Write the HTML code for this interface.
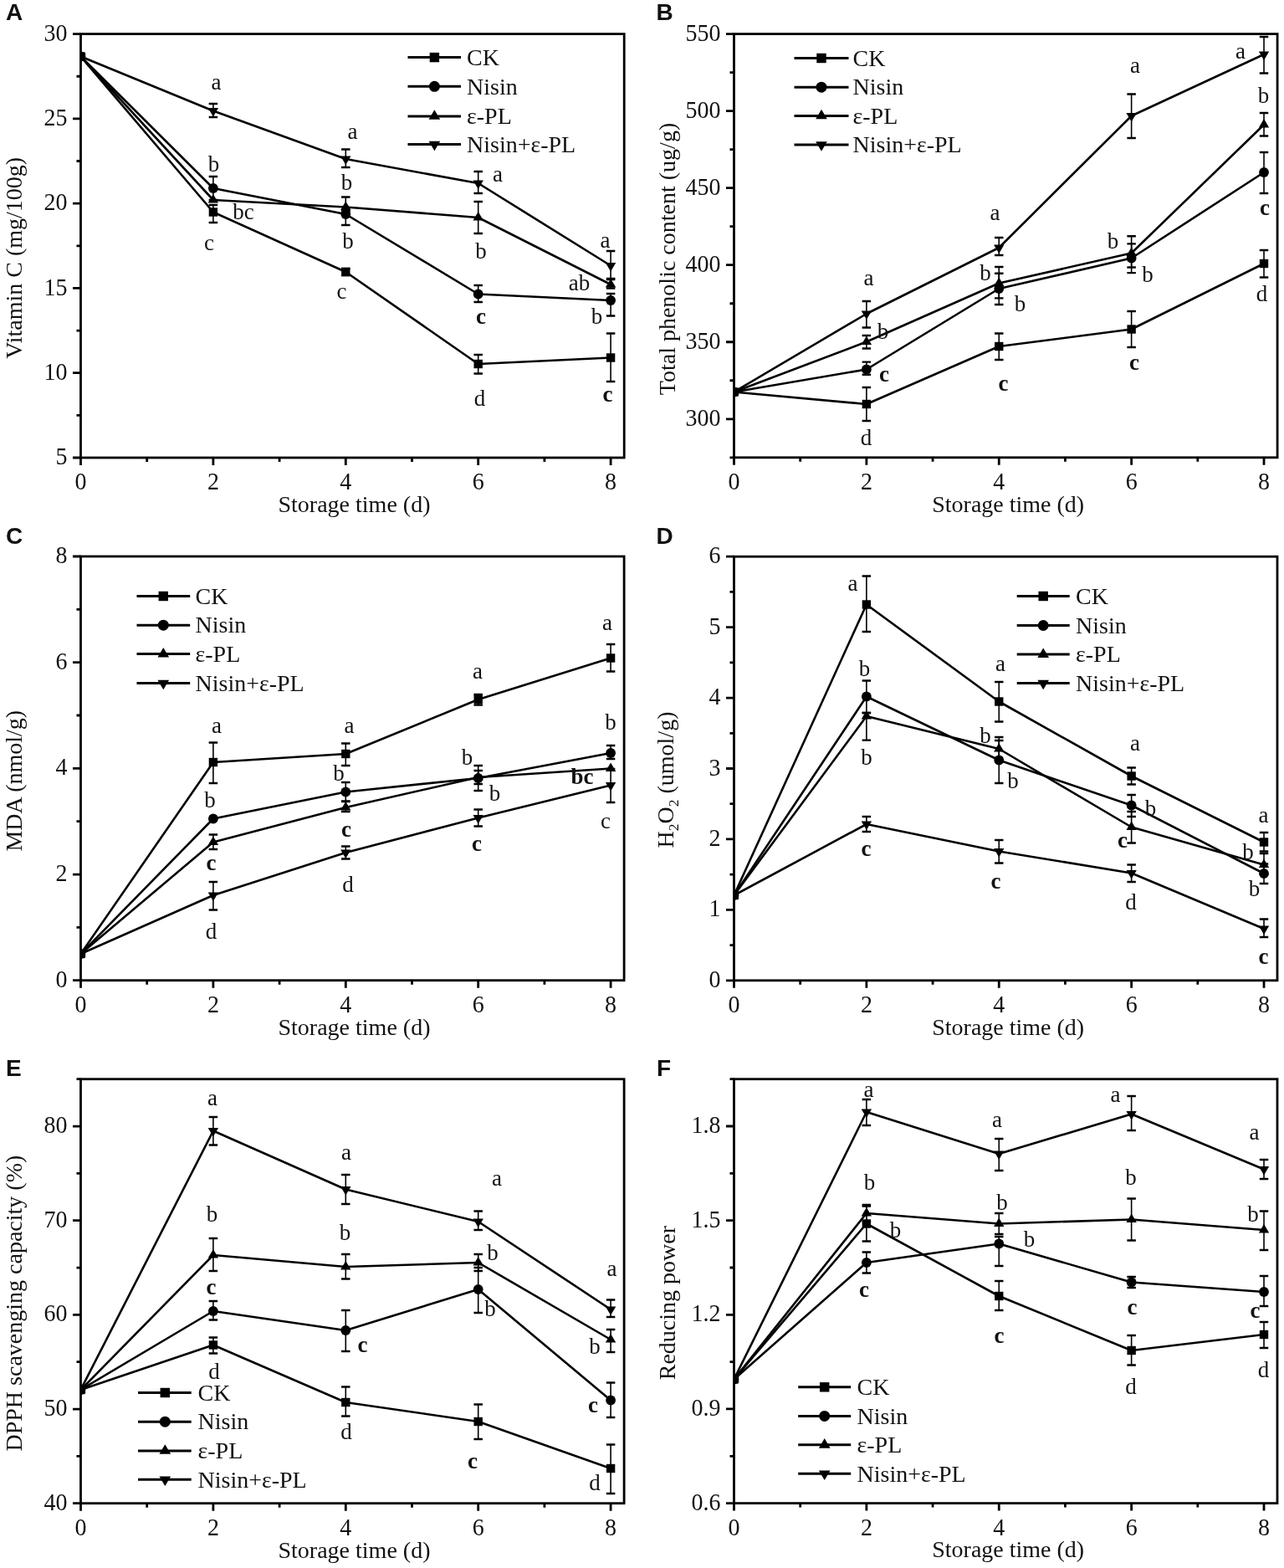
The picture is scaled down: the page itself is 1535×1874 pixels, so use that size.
<!DOCTYPE html>
<html><head><meta charset="utf-8"><title>Figure</title>
<style>
html,body{margin:0;padding:0;background:#fff;}
body{width:1535px;height:1874px;overflow:hidden;}
svg{display:block;}
text{font-family:"Liberation Serif","Times New Roman",serif;fill:#111;}
</style></head><body>
<svg width="1535" height="1874" viewBox="0 0 1535 1874">
<rect width="1535" height="1874" fill="#fff"/>
<path d="M96.5 547v9M175.7 547v5M254.9 547v9M334.1 547v5M413.3 547v9M492.5 547v5M571.7 547v9M650.9 547v5M730.1 547v9M96.5 40.6h-9.5M96.5 141.88h-9.5M96.5 243.16h-9.5M96.5 344.44h-9.5M96.5 445.72h-9.5M96.5 547h-9.5M96.5 91.24h-5M96.5 192.52h-5M96.5 293.8h-5M96.5 395.08h-5M96.5 496.36h-5" fill="none" stroke="#000" stroke-width="2.8"/>
<rect x="96.5" y="40.6" width="649.7" height="506.4" fill="none" stroke="#000" stroke-width="2.8"/>
<g font-size="28"><text transform="translate(96.5 585) scale(1 1.08)" text-anchor="middle">0</text><text transform="translate(254.9 585) scale(1 1.08)" text-anchor="middle">2</text><text transform="translate(413.3 585) scale(1 1.08)" text-anchor="middle">4</text><text transform="translate(571.7 585) scale(1 1.08)" text-anchor="middle">6</text><text transform="translate(730.1 585) scale(1 1.08)" text-anchor="middle">8</text><text transform="translate(80.5 48.7) scale(1 1.08)" text-anchor="end">30</text><text transform="translate(80.5 149.98) scale(1 1.08)" text-anchor="end">25</text><text transform="translate(80.5 251.26) scale(1 1.08)" text-anchor="end">20</text><text transform="translate(80.5 352.54) scale(1 1.08)" text-anchor="end">15</text><text transform="translate(80.5 453.82) scale(1 1.08)" text-anchor="end">10</text><text transform="translate(80.5 555.1) scale(1 1.08)" text-anchor="end">5</text></g>
<text x="423.5" y="612" text-anchor="middle" font-size="28">Storage time (d)</text>
<text transform="translate(26 308.3) rotate(-90)" text-anchor="middle" font-size="28">Vitamin C (mg/100g)</text>
<clipPath id="cA"><rect x="96.5" y="40.6" width="649.7" height="506.4"/></clipPath><g clip-path="url(#cA)">
<path d="M96.5 67.5 L254.9 253.5 L413.3 325 L571.7 435 L730.1 427.5" fill="none" stroke="#000" stroke-width="2.6" stroke-linejoin="round"/>
<path d="M254.9 245V266M413.3 321V329M571.7 424V446.5M730.1 398.5V456" fill="none" stroke="#000" stroke-width="1.6"/>
<path d="M249.65 245h10.5M249.65 266h10.5M408.05 321h10.5M408.05 329h10.5M566.45 424h10.5M566.45 446.5h10.5M724.85 398.5h10.5M724.85 456h10.5" fill="none" stroke="#000" stroke-width="2.4"/>
<g><rect x="91.3" y="62.3" width="10.4" height="10.4"/><rect x="249.7" y="248.3" width="10.4" height="10.4"/><rect x="408.1" y="319.8" width="10.4" height="10.4"/><rect x="566.5" y="429.8" width="10.4" height="10.4"/><rect x="724.9" y="422.3" width="10.4" height="10.4"/></g>
<path d="M96.5 67.5 L254.9 225 L413.3 256 L571.7 351.5 L730.1 359" fill="none" stroke="#000" stroke-width="2.6" stroke-linejoin="round"/>
<path d="M254.9 211V239M413.3 252V269M571.7 341V361M730.1 351V377.5" fill="none" stroke="#000" stroke-width="1.6"/>
<path d="M249.65 211h10.5M249.65 239h10.5M408.05 252h10.5M408.05 269h10.5M566.45 341h10.5M566.45 361h10.5M724.85 351h10.5M724.85 377.5h10.5" fill="none" stroke="#000" stroke-width="2.4"/>
<g><circle cx="96.5" cy="67.5" r="5.9"/><circle cx="254.9" cy="225" r="5.9"/><circle cx="413.3" cy="256" r="5.9"/><circle cx="571.7" cy="351.5" r="5.9"/><circle cx="730.1" cy="359" r="5.9"/></g>
<path d="M96.5 67.5 L254.9 239 L413.3 247.5 L571.7 260 L730.1 340" fill="none" stroke="#000" stroke-width="2.6" stroke-linejoin="round"/>
<path d="M413.3 235.5V252M571.7 241V279M730.1 333V344.5" fill="none" stroke="#000" stroke-width="1.6"/>
<path d="M408.05 235.5h10.5M408.05 252h10.5M566.45 241h10.5M566.45 279h10.5M724.85 333h10.5M724.85 344.5h10.5" fill="none" stroke="#000" stroke-width="2.4"/>
<g><polygon points="96.5,60.5 102.7,71 90.3,71"/><polygon points="254.9,232 261.1,242.5 248.7,242.5"/><polygon points="413.3,240.5 419.5,251 407.1,251"/><polygon points="571.7,253 577.9,263.5 565.5,263.5"/><polygon points="730.1,333 736.3,343.5 723.9,343.5"/></g>
<path d="M96.5 67.5 L254.9 132.5 L413.3 190 L571.7 219 L730.1 317.5" fill="none" stroke="#000" stroke-width="2.6" stroke-linejoin="round"/>
<path d="M254.9 124V140M413.3 178.5V200M571.7 205V231M730.1 300V334" fill="none" stroke="#000" stroke-width="1.6"/>
<path d="M249.65 124h10.5M249.65 140h10.5M408.05 178.5h10.5M408.05 200h10.5M566.45 205h10.5M566.45 231h10.5M724.85 300h10.5M724.85 334h10.5" fill="none" stroke="#000" stroke-width="2.4"/>
<g><polygon points="96.5,74.5 102.7,64 90.3,64"/><polygon points="254.9,139.5 261.1,129 248.7,129"/><polygon points="413.3,197 419.5,186.5 407.1,186.5"/><polygon points="571.7,226 577.9,215.5 565.5,215.5"/><polygon points="730.1,324.5 736.3,314 723.9,314"/></g>
</g>
<g font-size="27" text-anchor="middle"><text x="258.5" y="107">a</text><text x="421.5" y="166">a</text><text x="595" y="217">a</text><text x="723.5" y="296">a</text><text x="255.5" y="204.5">b</text><text x="414.5" y="227">b</text><text x="291" y="262">bc</text><text x="250" y="298.5">c</text><text x="416" y="297">b</text><text x="408.5" y="357">c</text><text x="575" y="308.5">b</text><text x="575" y="387" font-weight="bold">c</text><text x="573.5" y="484.5">d</text><text x="692.5" y="347">ab</text><text x="713.5" y="387">b</text><text x="726.5" y="479.5" font-weight="bold">c</text></g>
<g><path d="M487.5 68.6H551" stroke="#000" stroke-width="3"/><rect x="513.68" y="62.88" width="11.44" height="11.44"/><text x="558" y="77.8" font-size="28">CK</text><path d="M487.5 103.3H551" stroke="#000" stroke-width="3"/><circle cx="519.4" cy="103.3" r="6.49"/><text x="558" y="112.5" font-size="28">Nisin</text><path d="M487.5 138.9H551" stroke="#000" stroke-width="3"/><polygon points="519.4,131.2 526.22,142.75 512.58,142.75"/><text x="558" y="148.1" font-size="28">ε-PL</text><path d="M487.5 172.5H551" stroke="#000" stroke-width="3"/><polygon points="519.4,180.2 526.22,168.65 512.58,168.65"/><text x="558" y="181.7" font-size="28">Nisin+ε-PL</text></g>
<text x="7" y="24" style="font-family:Liberation Sans,Arial,sans-serif;font-weight:bold;font-size:28px">A</text>
<path d="M877.5 546.8v9M956.69 546.8v5M1035.88 546.8v9M1115.07 546.8v5M1194.26 546.8v9M1273.45 546.8v5M1352.64 546.8v9M1431.83 546.8v5M1511.02 546.8v9M877.5 40.6h-9.5M877.5 132.64h-9.5M877.5 224.67h-9.5M877.5 316.71h-9.5M877.5 408.75h-9.5M877.5 500.78h-9.5M877.5 86.62h-5M877.5 178.65h-5M877.5 270.69h-5M877.5 362.73h-5M877.5 454.76h-5M877.5 546.8h-5" fill="none" stroke="#000" stroke-width="2.8"/>
<rect x="877.5" y="40.6" width="649.6" height="506.2" fill="none" stroke="#000" stroke-width="2.8"/>
<g font-size="28"><text transform="translate(877.5 584.8) scale(1 1.08)" text-anchor="middle">0</text><text transform="translate(1035.88 584.8) scale(1 1.08)" text-anchor="middle">2</text><text transform="translate(1194.26 584.8) scale(1 1.08)" text-anchor="middle">4</text><text transform="translate(1352.64 584.8) scale(1 1.08)" text-anchor="middle">6</text><text transform="translate(1511.02 584.8) scale(1 1.08)" text-anchor="middle">8</text><text transform="translate(861.5 48.7) scale(1 1.08)" text-anchor="end">550</text><text transform="translate(861.5 140.74) scale(1 1.08)" text-anchor="end">500</text><text transform="translate(861.5 232.77) scale(1 1.08)" text-anchor="end">450</text><text transform="translate(861.5 324.81) scale(1 1.08)" text-anchor="end">400</text><text transform="translate(861.5 416.85) scale(1 1.08)" text-anchor="end">350</text><text transform="translate(861.5 508.88) scale(1 1.08)" text-anchor="end">300</text></g>
<text x="1205.2" y="611.5" text-anchor="middle" font-size="28">Storage time (d)</text>
<text transform="translate(806.8 309.5) rotate(-90)" text-anchor="middle" font-size="28">Total phenolic content (ug/g)</text>
<clipPath id="cB"><rect x="877.5" y="40.6" width="649.6" height="506.2"/></clipPath><g clip-path="url(#cB)">
<path d="M877.5 468.5 L1035.88 483 L1194.26 414 L1352.64 393.5 L1511.02 315" fill="none" stroke="#000" stroke-width="2.6" stroke-linejoin="round"/>
<path d="M1035.88 463V503M1194.26 398.5V430M1352.64 372V415M1511.02 299V331.5" fill="none" stroke="#000" stroke-width="1.6"/>
<path d="M1030.63 463h10.5M1030.63 503h10.5M1189.01 398.5h10.5M1189.01 430h10.5M1347.39 372h10.5M1347.39 415h10.5M1505.77 299h10.5M1505.77 331.5h10.5" fill="none" stroke="#000" stroke-width="2.4"/>
<g><rect x="872.3" y="463.3" width="10.4" height="10.4"/><rect x="1030.68" y="477.8" width="10.4" height="10.4"/><rect x="1189.06" y="408.8" width="10.4" height="10.4"/><rect x="1347.44" y="388.3" width="10.4" height="10.4"/><rect x="1505.82" y="309.8" width="10.4" height="10.4"/></g>
<path d="M877.5 468.5 L1035.88 441.5 L1194.26 345 L1352.64 308.5 L1511.02 206" fill="none" stroke="#000" stroke-width="2.6" stroke-linejoin="round"/>
<path d="M1035.88 432.6V447.8M1194.26 326.7V364M1352.64 291.4V326.1M1511.02 182V231" fill="none" stroke="#000" stroke-width="1.6"/>
<path d="M1030.63 432.6h10.5M1030.63 447.8h10.5M1189.01 326.7h10.5M1189.01 364h10.5M1347.39 291.4h10.5M1347.39 326.1h10.5M1505.77 182h10.5M1505.77 231h10.5" fill="none" stroke="#000" stroke-width="2.4"/>
<g><circle cx="877.5" cy="468.5" r="5.9"/><circle cx="1035.88" cy="441.5" r="5.9"/><circle cx="1194.26" cy="345" r="5.9"/><circle cx="1352.64" cy="308.5" r="5.9"/><circle cx="1511.02" cy="206" r="5.9"/></g>
<path d="M877.5 468.5 L1035.88 408.5 L1194.26 338.5 L1352.64 302.5 L1511.02 149" fill="none" stroke="#000" stroke-width="2.6" stroke-linejoin="round"/>
<path d="M1035.88 401V416.5M1194.26 319V356.4M1352.64 282.3V319.5M1511.02 135V162.5" fill="none" stroke="#000" stroke-width="1.6"/>
<path d="M1030.63 401h10.5M1030.63 416.5h10.5M1189.01 319h10.5M1189.01 356.4h10.5M1347.39 282.3h10.5M1347.39 319.5h10.5M1505.77 135h10.5M1505.77 162.5h10.5" fill="none" stroke="#000" stroke-width="2.4"/>
<g><polygon points="877.5,461.5 883.7,472 871.3,472"/><polygon points="1035.88,401.5 1042.08,412 1029.68,412"/><polygon points="1194.26,331.5 1200.46,342 1188.06,342"/><polygon points="1352.64,295.5 1358.84,306 1346.44,306"/><polygon points="1511.02,142 1517.22,152.5 1504.82,152.5"/></g>
<path d="M877.5 468.5 L1035.88 375 L1194.26 296 L1352.64 138.5 L1511.02 65" fill="none" stroke="#000" stroke-width="2.6" stroke-linejoin="round"/>
<path d="M1035.88 360V391.5M1194.26 284V305M1352.64 112.5V165M1511.02 44V87.5" fill="none" stroke="#000" stroke-width="1.6"/>
<path d="M1030.63 360h10.5M1030.63 391.5h10.5M1189.01 284h10.5M1189.01 305h10.5M1347.39 112.5h10.5M1347.39 165h10.5M1505.77 44h10.5M1505.77 87.5h10.5" fill="none" stroke="#000" stroke-width="2.4"/>
<g><polygon points="877.5,475.5 883.7,465 871.3,465"/><polygon points="1035.88,382 1042.08,371.5 1029.68,371.5"/><polygon points="1194.26,303 1200.46,292.5 1188.06,292.5"/><polygon points="1352.64,145.5 1358.84,135 1346.44,135"/><polygon points="1511.02,72 1517.22,61.5 1504.82,61.5"/></g>
</g>
<g font-size="27" text-anchor="middle"><text x="1357" y="87">a</text><text x="1483" y="69.5">a</text><text x="1510.5" y="123">b</text><text x="1512" y="257" font-weight="bold">c</text><text x="1189.5" y="263">a</text><text x="1330.5" y="297">b</text><text x="1372" y="337">b</text><text x="1178" y="334.5">b</text><text x="1219.5" y="372">b</text><text x="1508.5" y="359.5">d</text><text x="1038.5" y="341">a</text><text x="1055.5" y="404.5">b</text><text x="1057" y="455.5" font-weight="bold">c</text><text x="1199.5" y="467" font-weight="bold">c</text><text x="1356" y="442" font-weight="bold">c</text><text x="1035.5" y="532">d</text></g>
<g><path d="M949.5 69.5H1014.5" stroke="#000" stroke-width="3"/><rect x="976.28" y="63.78" width="11.44" height="11.44"/><text x="1019.5" y="78.7" font-size="28">CK</text><path d="M949.5 104.2H1014.5" stroke="#000" stroke-width="3"/><circle cx="982" cy="104.2" r="6.49"/><text x="1019.5" y="113.4" font-size="28">Nisin</text><path d="M949.5 138.5H1014.5" stroke="#000" stroke-width="3"/><polygon points="982,130.8 988.82,142.35 975.18,142.35"/><text x="1019.5" y="147.7" font-size="28">ε-PL</text><path d="M949.5 173H1014.5" stroke="#000" stroke-width="3"/><polygon points="982,180.7 988.82,169.15 975.18,169.15"/><text x="1019.5" y="182.2" font-size="28">Nisin+ε-PL</text></g>
<text x="784.6" y="24" style="font-family:Liberation Sans,Arial,sans-serif;font-weight:bold;font-size:28px">B</text>
<path d="M96.5 1171.7v9M175.7 1171.7v5M254.9 1171.7v9M334.1 1171.7v5M413.3 1171.7v9M492.5 1171.7v5M571.7 1171.7v9M650.9 1171.7v5M730.1 1171.7v9M96.5 665h-9.5M96.5 791.67h-9.5M96.5 918.35h-9.5M96.5 1045.03h-9.5M96.5 1171.7h-9.5M96.5 728.34h-5M96.5 855.01h-5M96.5 981.69h-5M96.5 1108.36h-5" fill="none" stroke="#000" stroke-width="2.8"/>
<rect x="96.5" y="665" width="649.6" height="506.7" fill="none" stroke="#000" stroke-width="2.8"/>
<g font-size="28"><text transform="translate(96.5 1209.7) scale(1 1.08)" text-anchor="middle">0</text><text transform="translate(254.9 1209.7) scale(1 1.08)" text-anchor="middle">2</text><text transform="translate(413.3 1209.7) scale(1 1.08)" text-anchor="middle">4</text><text transform="translate(571.7 1209.7) scale(1 1.08)" text-anchor="middle">6</text><text transform="translate(730.1 1209.7) scale(1 1.08)" text-anchor="middle">8</text><text transform="translate(80.5 673.1) scale(1 1.08)" text-anchor="end">8</text><text transform="translate(80.5 799.77) scale(1 1.08)" text-anchor="end">6</text><text transform="translate(80.5 926.45) scale(1 1.08)" text-anchor="end">4</text><text transform="translate(80.5 1053.13) scale(1 1.08)" text-anchor="end">2</text><text transform="translate(80.5 1179.8) scale(1 1.08)" text-anchor="end">0</text></g>
<text x="423.5" y="1236.7" text-anchor="middle" font-size="28">Storage time (d)</text>
<text transform="translate(26.2 933.2) rotate(-90)" text-anchor="middle" font-size="28">MDA (nmol/g)</text>
<clipPath id="cC"><rect x="96.5" y="665" width="649.6" height="506.7"/></clipPath><g clip-path="url(#cC)">
<path d="M96.5 1140 L254.9 911 L413.3 901 L571.7 836 L730.1 786.5" fill="none" stroke="#000" stroke-width="2.6" stroke-linejoin="round"/>
<path d="M254.9 887.5V936M413.3 888.5V915M571.7 830V842.5M730.1 770V802.5" fill="none" stroke="#000" stroke-width="1.6"/>
<path d="M249.65 887.5h10.5M249.65 936h10.5M408.05 888.5h10.5M408.05 915h10.5M566.45 830h10.5M566.45 842.5h10.5M724.85 770h10.5M724.85 802.5h10.5" fill="none" stroke="#000" stroke-width="2.4"/>
<g><rect x="91.3" y="1134.8" width="10.4" height="10.4"/><rect x="249.7" y="905.8" width="10.4" height="10.4"/><rect x="408.1" y="895.8" width="10.4" height="10.4"/><rect x="566.5" y="830.8" width="10.4" height="10.4"/><rect x="724.9" y="781.3" width="10.4" height="10.4"/></g>
<path d="M96.5 1140 L254.9 978.5 L413.3 946.5 L571.7 930 L730.1 900" fill="none" stroke="#000" stroke-width="2.6" stroke-linejoin="round"/>
<path d="M413.3 935V957.5M571.7 915V945M730.1 891V907" fill="none" stroke="#000" stroke-width="1.6"/>
<path d="M408.05 935h10.5M408.05 957.5h10.5M566.45 915h10.5M566.45 945h10.5M724.85 891h10.5M724.85 907h10.5" fill="none" stroke="#000" stroke-width="2.4"/>
<g><circle cx="96.5" cy="1140" r="5.9"/><circle cx="254.9" cy="978.5" r="5.9"/><circle cx="413.3" cy="946.5" r="5.9"/><circle cx="571.7" cy="930" r="5.9"/><circle cx="730.1" cy="900" r="5.9"/></g>
<path d="M96.5 1140 L254.9 1006.5 L413.3 965 L571.7 929 L730.1 918.5" fill="none" stroke="#000" stroke-width="2.6" stroke-linejoin="round"/>
<path d="M254.9 997.5V1015M413.3 958V970M571.7 921V937" fill="none" stroke="#000" stroke-width="1.6"/>
<path d="M249.65 997.5h10.5M249.65 1015h10.5M408.05 958h10.5M408.05 970h10.5M566.45 921h10.5M566.45 937h10.5" fill="none" stroke="#000" stroke-width="2.4"/>
<g><polygon points="96.5,1133 102.7,1143.5 90.3,1143.5"/><polygon points="254.9,999.5 261.1,1010 248.7,1010"/><polygon points="413.3,958 419.5,968.5 407.1,968.5"/><polygon points="571.7,922 577.9,932.5 565.5,932.5"/><polygon points="730.1,911.5 736.3,922 723.9,922"/></g>
<path d="M96.5 1140 L254.9 1070 L413.3 1019 L571.7 977.5 L730.1 938.5" fill="none" stroke="#000" stroke-width="2.6" stroke-linejoin="round"/>
<path d="M254.9 1054V1087.5M413.3 1011.5V1026.5M571.7 967.5V987.5M730.1 919V959" fill="none" stroke="#000" stroke-width="1.6"/>
<path d="M249.65 1054h10.5M249.65 1087.5h10.5M408.05 1011.5h10.5M408.05 1026.5h10.5M566.45 967.5h10.5M566.45 987.5h10.5M724.85 919h10.5M724.85 959h10.5" fill="none" stroke="#000" stroke-width="2.4"/>
<g><polygon points="96.5,1147 102.7,1136.5 90.3,1136.5"/><polygon points="254.9,1077 261.1,1066.5 248.7,1066.5"/><polygon points="413.3,1026 419.5,1015.5 407.1,1015.5"/><polygon points="571.7,984.5 577.9,974 565.5,974"/><polygon points="730.1,945.5 736.3,935 723.9,935"/></g>
</g>
<g font-size="27" text-anchor="middle"><text x="726" y="753">a</text><text x="571" y="811">a</text><text x="259" y="875.5">a</text><text x="417.5" y="875.5">a</text><text x="730" y="872">b</text><text x="558.5" y="913.5">b</text><text x="405" y="933">b</text><text x="696" y="937" font-weight="bold">bc</text><text x="591.5" y="957">b</text><text x="251" y="964.5">b</text><text x="724" y="989.5">c</text><text x="414" y="999.5" font-weight="bold">c</text><text x="570" y="1017" font-weight="bold">c</text><text x="252.5" y="1039.5" font-weight="bold">c</text><text x="416" y="1066">d</text><text x="252.5" y="1122">d</text></g>
<g><path d="M163.5 712.5H227.2" stroke="#000" stroke-width="3"/><rect x="189.58" y="706.78" width="11.44" height="11.44"/><text x="233.5" y="721.7" font-size="28">CK</text><path d="M163.5 747.2H227.2" stroke="#000" stroke-width="3"/><circle cx="195.3" cy="747.2" r="6.49"/><text x="233.5" y="756.4" font-size="28">Nisin</text><path d="M163.5 781.6H227.2" stroke="#000" stroke-width="3"/><polygon points="195.3,773.9 202.12,785.45 188.48,785.45"/><text x="233.5" y="790.8" font-size="28">ε-PL</text><path d="M163.5 816.6H227.2" stroke="#000" stroke-width="3"/><polygon points="195.3,824.3 202.12,812.75 188.48,812.75"/><text x="233.5" y="825.8" font-size="28">Nisin+ε-PL</text></g>
<text x="7" y="650" style="font-family:Liberation Sans,Arial,sans-serif;font-weight:bold;font-size:28px">C</text>
<path d="M877.5 1171.8v9M956.69 1171.8v5M1035.88 1171.8v9M1115.07 1171.8v5M1194.26 1171.8v9M1273.45 1171.8v5M1352.64 1171.8v9M1431.83 1171.8v5M1511.02 1171.8v9M877.5 665.2h-9.5M877.5 749.63h-9.5M877.5 834.07h-9.5M877.5 918.5h-9.5M877.5 1002.93h-9.5M877.5 1087.37h-9.5M877.5 1171.8h-9.5M877.5 707.42h-5M877.5 791.85h-5M877.5 876.28h-5M877.5 960.72h-5M877.5 1045.15h-5M877.5 1129.58h-5" fill="none" stroke="#000" stroke-width="2.8"/>
<rect x="877.5" y="665.2" width="649.5" height="506.6" fill="none" stroke="#000" stroke-width="2.8"/>
<g font-size="28"><text transform="translate(877.5 1209.8) scale(1 1.08)" text-anchor="middle">0</text><text transform="translate(1035.88 1209.8) scale(1 1.08)" text-anchor="middle">2</text><text transform="translate(1194.26 1209.8) scale(1 1.08)" text-anchor="middle">4</text><text transform="translate(1352.64 1209.8) scale(1 1.08)" text-anchor="middle">6</text><text transform="translate(1511.02 1209.8) scale(1 1.08)" text-anchor="middle">8</text><text transform="translate(861.5 673.3) scale(1 1.08)" text-anchor="end">6</text><text transform="translate(861.5 757.73) scale(1 1.08)" text-anchor="end">5</text><text transform="translate(861.5 842.17) scale(1 1.08)" text-anchor="end">4</text><text transform="translate(861.5 926.6) scale(1 1.08)" text-anchor="end">3</text><text transform="translate(861.5 1011.03) scale(1 1.08)" text-anchor="end">2</text><text transform="translate(861.5 1095.47) scale(1 1.08)" text-anchor="end">1</text><text transform="translate(861.5 1179.9) scale(1 1.08)" text-anchor="end">0</text></g>
<text x="1205.2" y="1236.5" text-anchor="middle" font-size="28">Storage time (d)</text>
<text transform="translate(804.5 932) rotate(-90)" text-anchor="middle" font-size="28">H<tspan font-size="17.5" dy="6.5">2</tspan><tspan dy="-6.5">O</tspan><tspan font-size="17.5" dy="6.5">2</tspan><tspan dy="-6.5"> (umol/g)</tspan></text>
<clipPath id="cD"><rect x="877.5" y="665.2" width="649.5" height="506.6"/></clipPath><g clip-path="url(#cD)">
<path d="M877.5 1070 L1035.88 722.5 L1194.26 838.5 L1352.64 927.5 L1511.02 1006.5" fill="none" stroke="#000" stroke-width="2.6" stroke-linejoin="round"/>
<path d="M1035.88 688.5V755M1194.26 815V862.5M1352.64 917.5V937.5M1511.02 995V1017.5" fill="none" stroke="#000" stroke-width="1.6"/>
<path d="M1030.63 688.5h10.5M1030.63 755h10.5M1189.01 815h10.5M1189.01 862.5h10.5M1347.39 917.5h10.5M1347.39 937.5h10.5M1505.77 995h10.5M1505.77 1017.5h10.5" fill="none" stroke="#000" stroke-width="2.4"/>
<g><rect x="872.3" y="1064.8" width="10.4" height="10.4"/><rect x="1030.68" y="717.3" width="10.4" height="10.4"/><rect x="1189.06" y="833.3" width="10.4" height="10.4"/><rect x="1347.44" y="922.3" width="10.4" height="10.4"/><rect x="1505.82" y="1001.3" width="10.4" height="10.4"/></g>
<path d="M877.5 1070 L1035.88 832.5 L1194.26 908.5 L1352.64 962.5 L1511.02 1044" fill="none" stroke="#000" stroke-width="2.6" stroke-linejoin="round"/>
<path d="M1035.88 813.5V852M1194.26 885V936M1352.64 950V976M1511.02 1032.5V1056" fill="none" stroke="#000" stroke-width="1.6"/>
<path d="M1030.63 813.5h10.5M1030.63 852h10.5M1189.01 885h10.5M1189.01 936h10.5M1347.39 950h10.5M1347.39 976h10.5M1505.77 1032.5h10.5M1505.77 1056h10.5" fill="none" stroke="#000" stroke-width="2.4"/>
<g><circle cx="877.5" cy="1070" r="5.9"/><circle cx="1035.88" cy="832.5" r="5.9"/><circle cx="1194.26" cy="908.5" r="5.9"/><circle cx="1352.64" cy="962.5" r="5.9"/><circle cx="1511.02" cy="1044" r="5.9"/></g>
<path d="M877.5 1070 L1035.88 856 L1194.26 895 L1352.64 988.5 L1511.02 1033.5" fill="none" stroke="#000" stroke-width="2.6" stroke-linejoin="round"/>
<path d="M1035.88 852V884.6M1194.26 881V909M1352.64 970V1007.5M1511.02 1020V1045" fill="none" stroke="#000" stroke-width="1.6"/>
<path d="M1030.63 852h10.5M1030.63 884.6h10.5M1189.01 881h10.5M1189.01 909h10.5M1347.39 970h10.5M1347.39 1007.5h10.5M1505.77 1020h10.5M1505.77 1045h10.5" fill="none" stroke="#000" stroke-width="2.4"/>
<g><polygon points="877.5,1063 883.7,1073.5 871.3,1073.5"/><polygon points="1035.88,849 1042.08,859.5 1029.68,859.5"/><polygon points="1194.26,888 1200.46,898.5 1188.06,898.5"/><polygon points="1352.64,981.5 1358.84,992 1346.44,992"/><polygon points="1511.02,1026.5 1517.22,1037 1504.82,1037"/></g>
<path d="M877.5 1070 L1035.88 985 L1194.26 1017.5 L1352.64 1043.5 L1511.02 1110" fill="none" stroke="#000" stroke-width="2.6" stroke-linejoin="round"/>
<path d="M1035.88 976V994M1194.26 1004V1031.5M1352.64 1033.5V1054M1511.02 1098.5V1120" fill="none" stroke="#000" stroke-width="1.6"/>
<path d="M1030.63 976h10.5M1030.63 994h10.5M1189.01 1004h10.5M1189.01 1031.5h10.5M1347.39 1033.5h10.5M1347.39 1054h10.5M1505.77 1098.5h10.5M1505.77 1120h10.5" fill="none" stroke="#000" stroke-width="2.4"/>
<g><polygon points="877.5,1077 883.7,1066.5 871.3,1066.5"/><polygon points="1035.88,992 1042.08,981.5 1029.68,981.5"/><polygon points="1194.26,1024.5 1200.46,1014 1188.06,1014"/><polygon points="1352.64,1050.5 1358.84,1040 1346.44,1040"/><polygon points="1511.02,1117 1517.22,1106.5 1504.82,1106.5"/></g>
</g>
<g font-size="27" text-anchor="middle"><text x="1019.5" y="706">a</text><text x="1033.5" y="808">b</text><text x="1196" y="802">a</text><text x="1036" y="913.5">b</text><text x="1178" y="888">b</text><text x="1211" y="942">b</text><text x="1357" y="897">a</text><text x="1375.5" y="974.5">b</text><text x="1342" y="1013" font-weight="bold">c</text><text x="1510.5" y="983">a</text><text x="1492" y="1027">b</text><text x="1499.5" y="1071">b</text><text x="1035.5" y="1023" font-weight="bold">c</text><text x="1190.5" y="1062" font-weight="bold">c</text><text x="1352" y="1087">d</text><text x="1510.5" y="1152" font-weight="bold">c</text></g>
<g><path d="M1215.7 712.5H1278.7" stroke="#000" stroke-width="3"/><rect x="1241.48" y="706.78" width="11.44" height="11.44"/><text x="1286" y="721.7" font-size="28">CK</text><path d="M1215.7 747.5H1278.7" stroke="#000" stroke-width="3"/><circle cx="1247.2" cy="747.5" r="6.49"/><text x="1286" y="756.7" font-size="28">Nisin</text><path d="M1215.7 782.1H1278.7" stroke="#000" stroke-width="3"/><polygon points="1247.2,774.4 1254.02,785.95 1240.38,785.95"/><text x="1286" y="791.3" font-size="28">ε-PL</text><path d="M1215.7 816.6H1278.7" stroke="#000" stroke-width="3"/><polygon points="1247.2,824.3 1254.02,812.75 1240.38,812.75"/><text x="1286" y="825.8" font-size="28">Nisin+ε-PL</text></g>
<text x="784.6" y="650" style="font-family:Liberation Sans,Arial,sans-serif;font-weight:bold;font-size:28px">D</text>
<path d="M96.5 1796.7v9M175.7 1796.7v5M254.9 1796.7v9M334.1 1796.7v5M413.3 1796.7v9M492.5 1796.7v5M571.7 1796.7v9M650.9 1796.7v5M730.1 1796.7v9M96.5 1346.03h-9.5M96.5 1458.7h-9.5M96.5 1571.37h-9.5M96.5 1684.03h-9.5M96.5 1796.7h-9.5M96.5 1289.7h-5M96.5 1402.37h-5M96.5 1515.03h-5M96.5 1627.7h-5M96.5 1740.37h-5" fill="none" stroke="#000" stroke-width="2.8"/>
<rect x="96.5" y="1289.7" width="649.6" height="507" fill="none" stroke="#000" stroke-width="2.8"/>
<g font-size="28"><text transform="translate(96.5 1834.7) scale(1 1.08)" text-anchor="middle">0</text><text transform="translate(254.9 1834.7) scale(1 1.08)" text-anchor="middle">2</text><text transform="translate(413.3 1834.7) scale(1 1.08)" text-anchor="middle">4</text><text transform="translate(571.7 1834.7) scale(1 1.08)" text-anchor="middle">6</text><text transform="translate(730.1 1834.7) scale(1 1.08)" text-anchor="middle">8</text><text transform="translate(80.5 1354.13) scale(1 1.08)" text-anchor="end">80</text><text transform="translate(80.5 1466.8) scale(1 1.08)" text-anchor="end">70</text><text transform="translate(80.5 1579.47) scale(1 1.08)" text-anchor="end">60</text><text transform="translate(80.5 1692.13) scale(1 1.08)" text-anchor="end">50</text><text transform="translate(80.5 1804.8) scale(1 1.08)" text-anchor="end">40</text></g>
<text x="423.5" y="1861.5" text-anchor="middle" font-size="28">Storage time (d)</text>
<text transform="translate(26.2 1557.6) rotate(-90)" text-anchor="middle" font-size="28">DPPH scavenging capacity (%)</text>
<clipPath id="cE"><rect x="96.5" y="1289.7" width="649.6" height="507"/></clipPath><g clip-path="url(#cE)">
<path d="M96.5 1661 L254.9 1607.5 L413.3 1676 L571.7 1699 L730.1 1755" fill="none" stroke="#000" stroke-width="2.6" stroke-linejoin="round"/>
<path d="M254.9 1598.5V1617.5M413.3 1657.5V1692.5M571.7 1678.5V1720M730.1 1726.5V1785" fill="none" stroke="#000" stroke-width="1.6"/>
<path d="M249.65 1598.5h10.5M249.65 1617.5h10.5M408.05 1657.5h10.5M408.05 1692.5h10.5M566.45 1678.5h10.5M566.45 1720h10.5M724.85 1726.5h10.5M724.85 1785h10.5" fill="none" stroke="#000" stroke-width="2.4"/>
<g><rect x="91.3" y="1655.8" width="10.4" height="10.4"/><rect x="249.7" y="1602.3" width="10.4" height="10.4"/><rect x="408.1" y="1670.8" width="10.4" height="10.4"/><rect x="566.5" y="1693.8" width="10.4" height="10.4"/><rect x="724.9" y="1749.8" width="10.4" height="10.4"/></g>
<path d="M96.5 1661 L254.9 1567 L413.3 1590 L571.7 1541 L730.1 1673.5" fill="none" stroke="#000" stroke-width="2.6" stroke-linejoin="round"/>
<path d="M254.9 1555V1577.5M413.3 1566V1615M571.7 1515V1569M730.1 1652.5V1694" fill="none" stroke="#000" stroke-width="1.6"/>
<path d="M249.65 1555h10.5M249.65 1577.5h10.5M408.05 1566h10.5M408.05 1615h10.5M566.45 1515h10.5M566.45 1569h10.5M724.85 1652.5h10.5M724.85 1694h10.5" fill="none" stroke="#000" stroke-width="2.4"/>
<g><circle cx="96.5" cy="1661" r="5.9"/><circle cx="254.9" cy="1567" r="5.9"/><circle cx="413.3" cy="1590" r="5.9"/><circle cx="571.7" cy="1541" r="5.9"/><circle cx="730.1" cy="1673.5" r="5.9"/></g>
<path d="M96.5 1661 L254.9 1500 L413.3 1514 L571.7 1509 L730.1 1601" fill="none" stroke="#000" stroke-width="2.6" stroke-linejoin="round"/>
<path d="M254.9 1480V1519M413.3 1499V1528.5M571.7 1499V1519M730.1 1589V1616" fill="none" stroke="#000" stroke-width="1.6"/>
<path d="M249.65 1480h10.5M249.65 1519h10.5M408.05 1499h10.5M408.05 1528.5h10.5M566.45 1499h10.5M566.45 1519h10.5M724.85 1589h10.5M724.85 1616h10.5" fill="none" stroke="#000" stroke-width="2.4"/>
<g><polygon points="96.5,1654 102.7,1664.5 90.3,1664.5"/><polygon points="254.9,1493 261.1,1503.5 248.7,1503.5"/><polygon points="413.3,1507 419.5,1517.5 407.1,1517.5"/><polygon points="571.7,1502 577.9,1512.5 565.5,1512.5"/><polygon points="730.1,1594 736.3,1604.5 723.9,1604.5"/></g>
<path d="M96.5 1661 L254.9 1351.5 L413.3 1421.5 L571.7 1460 L730.1 1565" fill="none" stroke="#000" stroke-width="2.6" stroke-linejoin="round"/>
<path d="M254.9 1335V1368.5M413.3 1404V1439M571.7 1447.5V1470M730.1 1553.5V1574" fill="none" stroke="#000" stroke-width="1.6"/>
<path d="M249.65 1335h10.5M249.65 1368.5h10.5M408.05 1404h10.5M408.05 1439h10.5M566.45 1447.5h10.5M566.45 1470h10.5M724.85 1553.5h10.5M724.85 1574h10.5" fill="none" stroke="#000" stroke-width="2.4"/>
<g><polygon points="96.5,1668 102.7,1657.5 90.3,1657.5"/><polygon points="254.9,1358.5 261.1,1348 248.7,1348"/><polygon points="413.3,1428.5 419.5,1418 407.1,1418"/><polygon points="571.7,1467 577.9,1456.5 565.5,1456.5"/><polygon points="730.1,1572 736.3,1561.5 723.9,1561.5"/></g>
</g>
<g font-size="27" text-anchor="middle"><text x="254" y="1321">a</text><text x="414" y="1386">a</text><text x="594" y="1417">a</text><text x="731.5" y="1524.5">a</text><text x="253.5" y="1459.5">b</text><text x="412.5" y="1482">b</text><text x="589" y="1505.5">b</text><text x="252.5" y="1547" font-weight="bold">c</text><text x="586" y="1573">b</text><text x="433.5" y="1616" font-weight="bold">c</text><text x="711" y="1618">b</text><text x="256" y="1648">d</text><text x="709" y="1688" font-weight="bold">c</text><text x="414" y="1719.5">d</text><text x="565" y="1754.5" font-weight="bold">c</text><text x="711" y="1781">d</text></g>
<g><path d="M165 1664.5H228.7" stroke="#000" stroke-width="3"/><rect x="191.58" y="1658.78" width="11.44" height="11.44"/><text x="236.5" y="1673.7" font-size="28">CK</text><path d="M165 1699.2H228.7" stroke="#000" stroke-width="3"/><circle cx="197.3" cy="1699.2" r="6.49"/><text x="236.5" y="1708.4" font-size="28">Nisin</text><path d="M165 1733.9H228.7" stroke="#000" stroke-width="3"/><polygon points="197.3,1726.2 204.12,1737.75 190.48,1737.75"/><text x="236.5" y="1743.1" font-size="28">ε-PL</text><path d="M165 1768.3H228.7" stroke="#000" stroke-width="3"/><polygon points="197.3,1776 204.12,1764.45 190.48,1764.45"/><text x="236.5" y="1777.5" font-size="28">Nisin+ε-PL</text></g>
<text x="7" y="1286" style="font-family:Liberation Sans,Arial,sans-serif;font-weight:bold;font-size:28px">E</text>
<path d="M877.5 1796.6v9M956.69 1796.6v5M1035.88 1796.6v9M1115.07 1796.6v5M1194.26 1796.6v9M1273.45 1796.6v5M1352.64 1796.6v9M1431.83 1796.6v5M1511.02 1796.6v9M877.5 1346.02h-9.5M877.5 1458.67h-9.5M877.5 1571.31h-9.5M877.5 1683.96h-9.5M877.5 1796.6h-9.5M877.5 1289.7h-5M877.5 1402.34h-5M877.5 1514.99h-5M877.5 1627.63h-5M877.5 1740.28h-5" fill="none" stroke="#000" stroke-width="2.8"/>
<rect x="877.5" y="1289.7" width="649.5" height="506.9" fill="none" stroke="#000" stroke-width="2.8"/>
<g font-size="28"><text transform="translate(877.5 1834.6) scale(1 1.08)" text-anchor="middle">0</text><text transform="translate(1035.88 1834.6) scale(1 1.08)" text-anchor="middle">2</text><text transform="translate(1194.26 1834.6) scale(1 1.08)" text-anchor="middle">4</text><text transform="translate(1352.64 1834.6) scale(1 1.08)" text-anchor="middle">6</text><text transform="translate(1511.02 1834.6) scale(1 1.08)" text-anchor="middle">8</text><text transform="translate(861.5 1354.12) scale(1 1.08)" text-anchor="end">1.8</text><text transform="translate(861.5 1466.77) scale(1 1.08)" text-anchor="end">1.5</text><text transform="translate(861.5 1579.41) scale(1 1.08)" text-anchor="end">1.2</text><text transform="translate(861.5 1692.06) scale(1 1.08)" text-anchor="end">0.9</text><text transform="translate(861.5 1804.7) scale(1 1.08)" text-anchor="end">0.6</text></g>
<text x="1205.2" y="1861.3" text-anchor="middle" font-size="28">Storage time (d)</text>
<text transform="translate(807.3 1557.1) rotate(-90)" text-anchor="middle" font-size="28">Reducing power</text>
<clipPath id="cF"><rect x="877.5" y="1289.7" width="649.5" height="506.9"/></clipPath><g clip-path="url(#cF)">
<path d="M877.5 1648.5 L1035.88 1462.5 L1194.26 1549 L1352.64 1614 L1511.02 1595" fill="none" stroke="#000" stroke-width="2.6" stroke-linejoin="round"/>
<path d="M1035.88 1441.5V1483.5M1194.26 1531V1566M1352.64 1596V1631.5M1511.02 1580V1611" fill="none" stroke="#000" stroke-width="1.6"/>
<path d="M1030.63 1441.5h10.5M1030.63 1483.5h10.5M1189.01 1531h10.5M1189.01 1566h10.5M1347.39 1596h10.5M1347.39 1631.5h10.5M1505.77 1580h10.5M1505.77 1611h10.5" fill="none" stroke="#000" stroke-width="2.4"/>
<g><rect x="872.3" y="1643.3" width="10.4" height="10.4"/><rect x="1030.68" y="1457.3" width="10.4" height="10.4"/><rect x="1189.06" y="1543.8" width="10.4" height="10.4"/><rect x="1347.44" y="1608.8" width="10.4" height="10.4"/><rect x="1505.82" y="1589.8" width="10.4" height="10.4"/></g>
<path d="M877.5 1648.5 L1035.88 1509 L1194.26 1486.5 L1352.64 1532.5 L1511.02 1544" fill="none" stroke="#000" stroke-width="2.6" stroke-linejoin="round"/>
<path d="M1035.88 1496.5V1521.5M1194.26 1478V1513M1352.64 1526V1539M1511.02 1525V1561" fill="none" stroke="#000" stroke-width="1.6"/>
<path d="M1030.63 1496.5h10.5M1030.63 1521.5h10.5M1189.01 1478h10.5M1189.01 1513h10.5M1347.39 1526h10.5M1347.39 1539h10.5M1505.77 1525h10.5M1505.77 1561h10.5" fill="none" stroke="#000" stroke-width="2.4"/>
<g><circle cx="877.5" cy="1648.5" r="5.9"/><circle cx="1035.88" cy="1509" r="5.9"/><circle cx="1194.26" cy="1486.5" r="5.9"/><circle cx="1352.64" cy="1532.5" r="5.9"/><circle cx="1511.02" cy="1544" r="5.9"/></g>
<path d="M877.5 1648.5 L1035.88 1450 L1194.26 1462.5 L1352.64 1457.5 L1511.02 1470" fill="none" stroke="#000" stroke-width="2.6" stroke-linejoin="round"/>
<path d="M1035.88 1440V1460M1194.26 1450V1475M1352.64 1432.5V1482.5M1511.02 1447.5V1494" fill="none" stroke="#000" stroke-width="1.6"/>
<path d="M1030.63 1440h10.5M1030.63 1460h10.5M1189.01 1450h10.5M1189.01 1475h10.5M1347.39 1432.5h10.5M1347.39 1482.5h10.5M1505.77 1447.5h10.5M1505.77 1494h10.5" fill="none" stroke="#000" stroke-width="2.4"/>
<g><polygon points="877.5,1641.5 883.7,1652 871.3,1652"/><polygon points="1035.88,1443 1042.08,1453.5 1029.68,1453.5"/><polygon points="1194.26,1455.5 1200.46,1466 1188.06,1466"/><polygon points="1352.64,1450.5 1358.84,1461 1346.44,1461"/><polygon points="1511.02,1463 1517.22,1473.5 1504.82,1473.5"/></g>
<path d="M877.5 1648.5 L1035.88 1329 L1194.26 1379 L1352.64 1331.5 L1511.02 1397.5" fill="none" stroke="#000" stroke-width="2.6" stroke-linejoin="round"/>
<path d="M1035.88 1314V1345M1194.26 1361V1399M1352.64 1310V1351M1511.02 1386V1409" fill="none" stroke="#000" stroke-width="1.6"/>
<path d="M1030.63 1314h10.5M1030.63 1345h10.5M1189.01 1361h10.5M1189.01 1399h10.5M1347.39 1310h10.5M1347.39 1351h10.5M1505.77 1386h10.5M1505.77 1409h10.5" fill="none" stroke="#000" stroke-width="2.4"/>
<g><polygon points="877.5,1655.5 883.7,1645 871.3,1645"/><polygon points="1035.88,1336 1042.08,1325.5 1029.68,1325.5"/><polygon points="1194.26,1386 1200.46,1375.5 1188.06,1375.5"/><polygon points="1352.64,1338.5 1358.84,1328 1346.44,1328"/><polygon points="1511.02,1404.5 1517.22,1394 1504.82,1394"/></g>
</g>
<g font-size="27" text-anchor="middle"><text x="1038.5" y="1310.5">a</text><text x="1192" y="1347">a</text><text x="1333.5" y="1317">a</text><text x="1499.5" y="1362">a</text><text x="1039.5" y="1422">b</text><text x="1198" y="1446">b</text><text x="1352" y="1416">b</text><text x="1498" y="1459.5">b</text><text x="1070.5" y="1478.5">b</text><text x="1230.5" y="1489.5">b</text><text x="1033" y="1549.5" font-weight="bold">c</text><text x="1194.5" y="1604.5" font-weight="bold">c</text><text x="1353.5" y="1571" font-weight="bold">c</text><text x="1500.5" y="1574.5" font-weight="bold">c</text><text x="1352" y="1666">d</text><text x="1510.5" y="1646">d</text></g>
<g><path d="M954.2 1657.8H1017.2" stroke="#000" stroke-width="3"/><rect x="979.98" y="1652.08" width="11.44" height="11.44"/><text x="1024.5" y="1667" font-size="28">CK</text><path d="M954.2 1692.4H1017.2" stroke="#000" stroke-width="3"/><circle cx="985.7" cy="1692.4" r="6.49"/><text x="1024.5" y="1701.6" font-size="28">Nisin</text><path d="M954.2 1726.8H1017.2" stroke="#000" stroke-width="3"/><polygon points="985.7,1719.1 992.52,1730.65 978.88,1730.65"/><text x="1024.5" y="1736" font-size="28">ε-PL</text><path d="M954.2 1761.3H1017.2" stroke="#000" stroke-width="3"/><polygon points="985.7,1769 992.52,1757.45 978.88,1757.45"/><text x="1024.5" y="1770.5" font-size="28">Nisin+ε-PL</text></g>
<text x="785" y="1286" style="font-family:Liberation Sans,Arial,sans-serif;font-weight:bold;font-size:28px">F</text>
</svg>
</body></html>
